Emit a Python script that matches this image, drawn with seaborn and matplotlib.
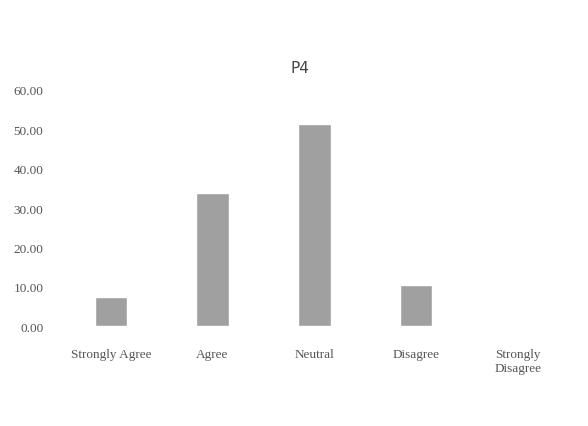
import matplotlib
matplotlib.use("Agg")
import matplotlib.pyplot as plt
import seaborn as sns
import pandas as pd

# Survey responses for item P4 (percent)
categories = ["Strongly Agree", "Agree", "Neutral", "Disagree", "Strongly\nDisagree"]
percent = [7.50, 33.75, 51.25, 10.50, 0.00]
y_ticks = [0, 10, 20, 30, 40, 50, 60]

sns.set_style("white")
plt.rcParams['font.family'] = ['Liberation Serif', 'DejaVu Serif']

df = pd.DataFrame({"response": categories, "percent": percent})

fig = plt.figure(figsize=(5.88, 4.27), dpi=100)
ax = fig.add_axes([0.102, 0.234, 0.865, 0.553])

sns.barplot(data=df, x="response", y="percent", color="#a0a0a0",
            width=0.32, saturation=1, ax=ax)

ax.set_ylim(0, 60)
ax.set_yticks(y_ticks)
ax.set_yticklabels(["{:.2f}".format(v) for v in y_ticks])
ax.set_xlim(-0.5, 4.5)
ax.set_xlabel("")
ax.set_ylabel("")
for s in ax.spines.values():
    s.set_visible(False)
ax.tick_params(axis="both", length=0, labelsize=9.5, labelcolor="#555555")
ax.tick_params(axis="y", pad=12)
ax.tick_params(axis="x", pad=16)

fig.text(0.51, 0.84, "P4", ha="center", va="center", fontsize=11,
         color="#444444", family=["DejaVu Sans"])

fig.savefig("out.png", dpi=100)
